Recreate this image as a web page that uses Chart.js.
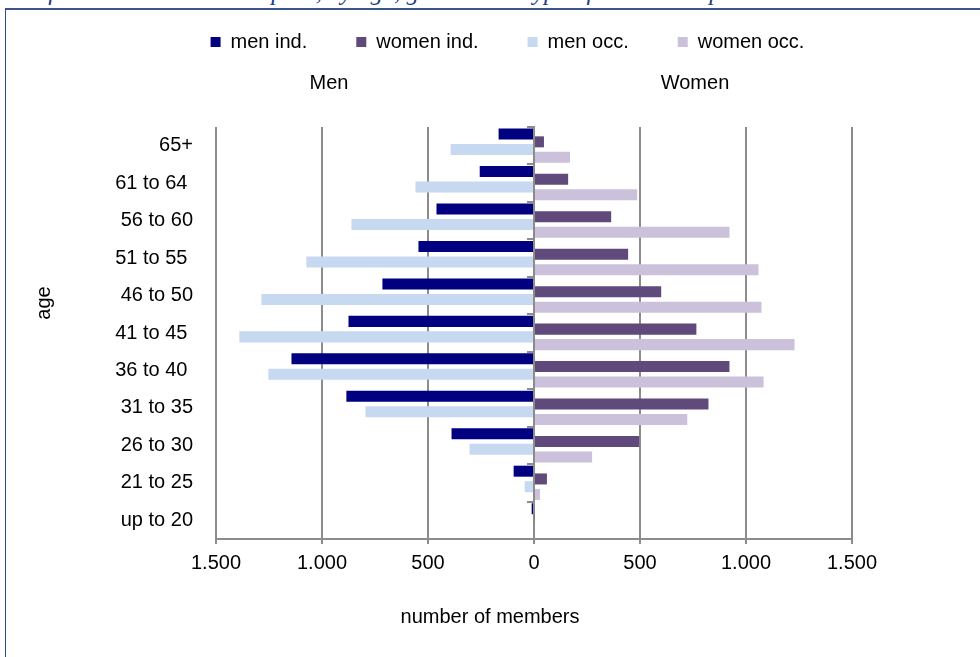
<!DOCTYPE html>
<html>
<head>
<meta charset="utf-8">
<script src="https://cdn.jsdelivr.net/npm/chart.js@4.4.0/dist/chart.umd.min.js"></script>
<style>
  html, body { margin: 0; padding: 0; background: #fff; }
  body { width: 980px; height: 657px; overflow: hidden; position: relative; }
  #caption { position: absolute; left: 0; top: 0; width: 980px; height: 8px; overflow: hidden; }
  #caption span { position: absolute; left: -51px; top: -22px; font: italic 25px "Liberation Serif", "DejaVu Serif", serif; color: #1f3c88; white-space: nowrap; }
  #frame { position: absolute; left: 5px; top: 8px; width: 980px; height: 660px; border-left: 1px solid #2e4c86; border-top: 2px solid #3b5587; }
  #wrap { position: absolute; left: 7px; top: 10px; width: 973px; height: 647px; }
</style>
</head>
<body>
<div id="caption"><span>Number of members in the data pool, by age, gender and type of membership</span></div>
<div id="frame"></div>
<div id="wrap"><canvas id="pyramid" width="973" height="647"></canvas></div>
<script>
// age groups, top to bottom
const ageGroups = ['65+', '61 to 64 ', '56 to 60', '51 to 55 ', '46 to 50', '41 to 45 ', '36 to 40 ', '31 to 35', '26 to 30', '21 to 25', 'up to 20'];

// men plotted to the left, so stored negative
const menInd = [-167, -256, -460, -545, -715, -875, -1144, -885, -389, -96, -11];
const menOcc = [-393, -559, -861, -1074, -1286, -1390, -1253, -795, -304, -44, 0];
const womenInd = [47, 161, 364, 444, 600, 766, 922, 823, 496, 61, 4];
const womenOcc = [170, 487, 922, 1059, 1073, 1229, 1083, 723, 274, 28, 0];

const xTicks = [-1500, -1000, -500, 0, 500, 1000, 1500];

const font = '"Liberation Sans", Arial, sans-serif';
const gridGray = '#8c8c8c';
const padTop = -27;

// make room between legend and plot for the Men / Women headings
const legendSpace = {
    id: 'legendSpace',
    beforeInit(chart) {
        const fit = chart.legend.fit;
        chart.legend.fit = function () {
            fit.call(this);
            this.height = 117 - padTop;
        };
    }
};

const extraText = {
    id: 'extraText',
    afterDraw(chart) {
        const { ctx, chartArea } = chart;
        ctx.save();
        ctx.fillStyle = '#000';
        ctx.font = '20px ' + font;
        ctx.textAlign = 'center';
        ctx.textBaseline = 'middle';
        ctx.fillText('Men', chartArea.left + 113, chartArea.top - 44);
        ctx.fillText('Women', chartArea.left + 479, chartArea.top - 44);
        ctx.fillText('number of members', chartArea.left + 274, chartArea.bottom + 78);
        ctx.translate(37, 293);
        ctx.rotate(-Math.PI / 2);
        ctx.fillText('age', 0, 0);
        ctx.restore();
    }
};

new Chart(document.getElementById('pyramid'), {
    type: 'bar',
    data: {
        labels: ageGroups,
        datasets: [
            { label: 'men ind.', data: menInd, backgroundColor: '#000080' },
            { label: 'women ind.', data: womenInd, backgroundColor: '#604a7b' },
            { label: 'men occ.', data: menOcc, backgroundColor: '#c6d9f1' },
            { label: 'women occ.', data: womenOcc, backgroundColor: '#ccc1da' }
        ]
    },
    options: {
        indexAxis: 'y',
        responsive: false,
        animation: false,
        devicePixelRatio: 1,
        categoryPercentage: 0.828,
        barPercentage: 1.42,
        layout: { padding: { top: padTop, left: 28, right: 0, bottom: 0 } },
        plugins: {
            tooltip: { enabled: false },
            legend: {
                position: 'top',
                labels: {
                    boxWidth: 10,
                    boxHeight: 10,
                    padding: 49,
                    color: '#000',
                    font: { family: font, size: 20 }
                }
            }
        },
        scales: {
            x: {
                type: 'linear',
                position: 'bottom',
                min: -1500,
                max: 1500,
                afterBuildTicks: s => { s.ticks = xTicks.map(v => ({ value: v })); },
                afterFit: s => { s.height = 118; },
                ticks: {
                    color: '#000',
                    padding: 7,
                    font: { family: font, size: 20 },
                    callback: v => Math.abs(v).toLocaleString('de-DE')
                },
                grid: { color: gridGray, lineWidth: 2, tickLength: 5 },
                border: { color: gridGray, width: 2 }
            },
            y: {
                type: 'category',
                position: 'left',
                afterFit: s => { s.width = 181; },
                ticks: { color: '#000', padding: 23, font: { family: font, size: 20 } },
                grid: { display: false, drawTicks: false },
                border: { display: false }
            },
            yz: {
                type: 'category',
                axis: 'y',
                position: { x: 0 },
                offset: true,
                ticks: { display: false },
                grid: { offset: true, drawOnChartArea: false, color: gridGray, lineWidth: 2, tickLength: 6 },
                border: { color: gridGray, width: 2 }
            },
            yr: {
                type: 'category',
                axis: 'y',
                position: 'right',
                afterFit: s => { s.width = 128; },
                ticks: { display: false },
                grid: { display: false, drawTicks: false },
                border: { display: false }
            }
        }
    },
    plugins: [legendSpace, extraText]
});
</script>
</body>
</html>
